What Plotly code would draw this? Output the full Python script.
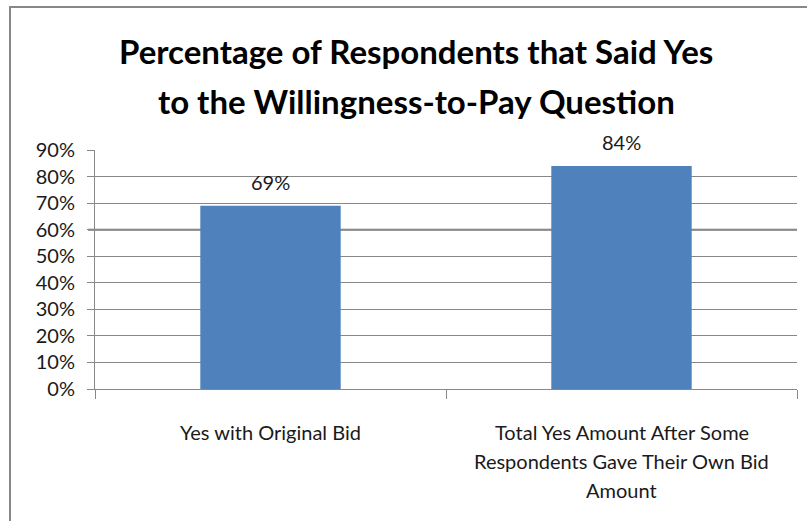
import plotly.graph_objects as go

# Survey results
categories = ["Yes with Original Bid",
              "Total Yes Amount After Some Respondents Gave Their Own Bid Amount"]
category_lines = [["Yes with Original Bid"],
                  ["Total Yes Amount After Some",
                   "Respondents Gave Their Own Bid",
                   "Amount"]]
values = [0.69, 0.84]
value_labels = ["69%", "84%"]
title_lines = ["Percentage of Respondents that Said Yes",
               "to the Willingness-to-Pay Question"]
y_ticks = [0, 0.1, 0.2, 0.3, 0.4, 0.5, 0.6, 0.7, 0.8, 0.9]
emphasised_gridline = 0.6

W, H = 807, 521
ML, MR, MT, MB = 95, 10, 150, 132
plot_w = W - ML - MR
plot_h = H - MT - MB


def px_to_paper_x(px):
    return (px - ML) / plot_w


def px_to_paper_y(py):
    return (H - MB - py) / plot_h


FONT = "Lato"
TEXT = "#1a1a1a"
GRID = "#888888"

fig = go.Figure()
fig.add_trace(go.Bar(
    x=categories, y=values,
    marker=dict(color="#4F81BD", line=dict(width=0)),
    width=0.4,
    hoverinfo="skip",
))

annotations = []
# title, two centered lines
for i, line in enumerate(title_lines):
    annotations.append(dict(
        text=f"<b>{line}</b>", xref="paper", yref="paper",
        x=px_to_paper_x(416), y=px_to_paper_y(51 + 50 * i),
        xanchor="center", yanchor="middle", showarrow=False,
        font=dict(family=FONT, size=33, color="#000000"),
    ))

# value labels above each bar
for cat, v, lab in zip(categories, values, value_labels):
    annotations.append(dict(
        text=lab, x=cat, y=v, xref="x", yref="y",
        xanchor="center", yanchor="bottom", yshift=10, showarrow=False,
        font=dict(family=FONT, size=20, color=TEXT),
    ))

# category labels, one annotation per text line
for cat, lines in zip(categories, category_lines):
    for j, line in enumerate(lines):
        annotations.append(dict(
            text=line, x=cat, xref="x", yref="paper",
            y=px_to_paper_y(432 + 29 * j),
            xanchor="center", yanchor="middle", showarrow=False,
            font=dict(family=FONT, size=20, color=TEXT),
        ))

shapes = [
    # chart-area frame (left and top edges)
    dict(type="rect", xref="paper", yref="paper",
         x0=px_to_paper_x(10), x1=px_to_paper_x(870),
         y0=px_to_paper_y(560), y1=px_to_paper_y(7),
         line=dict(color="#888888", width=2), fillcolor="rgba(0,0,0,0)",
         layer="below"),
    # heavier gridline
    dict(type="line", xref="paper", yref="y",
         x0=px_to_paper_x(88), x1=1, y0=emphasised_gridline, y1=emphasised_gridline,
         line=dict(color="#777777", width=2), layer="below"),
]

fig.update_layout(
    width=W, height=H,
    margin=dict(l=ML, r=MR, t=MT, b=MB, pad=0),
    paper_bgcolor="white", plot_bgcolor="white",
    showlegend=False,
    bargap=0.6,
    font=dict(family=FONT, size=20, color=TEXT),
    annotations=annotations,
    shapes=shapes,
)
fig.update_xaxes(
    type="category", range=[-0.5, 1.5],
    showticklabels=False,
    ticks="outside", tickson="boundaries", ticklen=9,
    tickcolor=GRID, tickwidth=1,
    showline=True, linecolor=GRID, linewidth=1,
    showgrid=False, zeroline=False,
)
fig.update_yaxes(
    range=[0, 0.9], tickvals=y_ticks, tickformat=".0%",
    ticks="outside", ticklen=7, tickcolor=GRID, tickwidth=1,
    ticklabelstandoff=8,
    tickfont=dict(family=FONT, size=20, color=TEXT),
    showline=True, linecolor=GRID, linewidth=1,
    showgrid=True, gridcolor=GRID, gridwidth=1,
    zeroline=False,
)

fig.write_html("out.html")
